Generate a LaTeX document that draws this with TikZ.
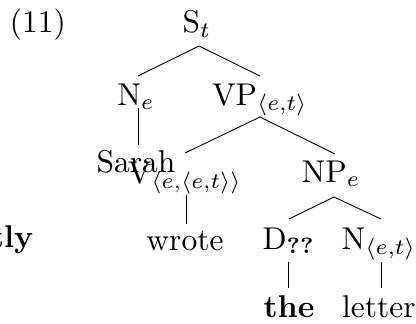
\documentclass[tikz,border=0pt]{standalone}
\begin{document}
\begin{tikzpicture}[x=1pt,y=-1pt,
  lbl/.style={anchor=base,inner sep=0pt,font=\fontsize{10}{12}\selectfont,scale=3.15,transform shape},
  edge/.style={line width=0.9pt}]
\useasboundingbox (0,0) rectangle (416,324);
\node[lbl] (ex) at (38,33) {(11)};
\node[lbl] (s) at (197,33) {$\mathrm{S}_t$};
\node[lbl] (ne) at (136,105) {$\mathrm{N}_e$};
\node[lbl] (vp) at (260,105) {$\mathrm{VP}_{\langle e,t\rangle}$};
\node[lbl] (sarah) at (136,172) {Sarah};
\node[lbl] (v) at (185,183) {$\mathrm{V}_{\langle e,\langle e,t\rangle\rangle}$};
\node[lbl] (np) at (331,182) {$\mathrm{NP}_e$};
\node[lbl] (wrote) at (185,250) {wrote};
\node[lbl] (d) at (289,249) {$\mathrm{D}_{\mbox{\fontsize{7}{8}\selectfont\bfseries ??}}$};
\node[lbl] (n2) at (379,249) {$\mathrm{N}_{\langle e,t\rangle}$};
\node[lbl] (the) at (289,317) {\textbf{the}};
\node[lbl] (letter) at (379,317) {letter};
\node[lbl,anchor=base east] (tly) at (34,247) {\textbf{tly}};
\draw[edge] ([shift={(2,13)}]s.base) -- ([shift={(2,-29)}]ne.base);
\draw[edge] ([shift={(2,13)}]s.base) -- ([shift={(0,-29)}]vp.base);
\draw[edge] ([shift={(2,3)}]ne.base) -- ([shift={(2,-27)}]sarah.base);
\draw[edge] ([shift={(0,12)}]vp.base) -- ([shift={(0,-30)}]v.base);
\draw[edge] ([shift={(0,12)}]vp.base) -- ([shift={(4,-28)}]np.base);
\draw[edge] ([shift={(1,12)}]v.base) -- ([shift={(1,-26)}]wrote.base);
\draw[edge] ([shift={(3,15)}]np.base) -- ([shift={(0,-30)}]d.base);
\draw[edge] ([shift={(3,15)}]np.base) -- ([shift={(2,-30)}]n2.base);
\draw[edge] ([shift={(-1,13)}]d.base) -- ([shift={(-1,-29)}]the.base);
\draw[edge] ([shift={(2,13)}]n2.base) -- ([shift={(2,-29)}]letter.base);
\end{tikzpicture}
\end{document}
